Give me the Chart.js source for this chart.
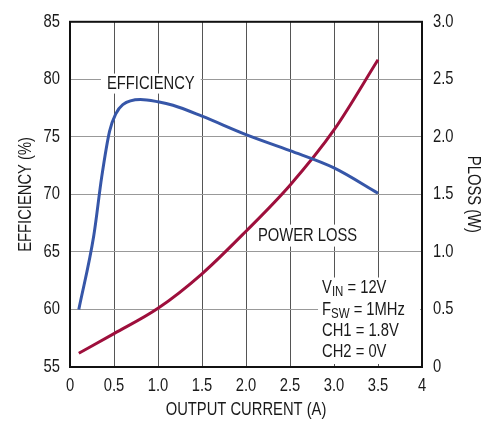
<!DOCTYPE html>
<html>
<head>
<meta charset="utf-8">
<script src="https://cdn.jsdelivr.net/npm/chart.js@4.4.1/dist/chart.umd.min.js"></script>
<style>
html,body{margin:0;padding:0;background:#fff;}
canvas{display:block;}
</style>
</head>
<body>
<canvas id="c" width="484" height="421"></canvas>
<script>
// ---- data ----
const effCurrent = [0.1, 0.27, 0.36, 0.45, 0.52, 0.6, 0.8, 1.0, 1.17, 1.5, 2.0, 2.5, 3.0, 3.5];
const efficiency = [60.0, 66.4, 71.5, 75.5, 77.0, 77.8, 78.25, 78.05, 77.75, 76.8, 75.2, 73.8, 72.3, 70.1];
const lossCurrent = [0.1, 0.5, 1.0, 1.5, 2.0, 2.5, 3.0, 3.5];
const powerLoss = [0.12, 0.29, 0.51, 0.81, 1.18, 1.58, 2.06, 2.67];
const xTicks = [0, 0.5, 1.0, 1.5, 2.0, 2.5, 3.0, 3.5, 4];
const leftTicks = [55, 60, 65, 70, 75, 80, 85];
const rightTicks = [0, 0.5, 1.0, 1.5, 2.0, 2.5, 3.0];
const conditions = [["V", "IN", " = 12V"], ["F", "SW", " = 1MHz"], ["CH1 = 1.8V", "", ""], ["CH2 = 0V", "", ""]];

const FONT = "'Liberation Sans Narrow', 'Liberation Sans', Arial, sans-serif";
const BLUE = '#3656a8';
const RED = '#9e0f3c';
const NARROW = 0.82; // condensed look of the original typeface

const canvas = document.getElementById('c');
const context = canvas.getContext('2d');
// draw all text horizontally condensed (narrow typeface look)
const origFill = context.fillText.bind(context);
const origMeasure = context.measureText.bind(context);
context.fillText = function (t, x, y, mw) {
  this.save();
  this.translate(x, y);
  this.scale(NARROW, 1);
  if (mw !== undefined) origFill(t, 0, 0, mw / NARROW); else origFill(t, 0, 0);
  this.restore();
};
context.measureText = function (t) {
  const m = origMeasure(t);
  return {width: m.width * NARROW, actualBoundingBoxAscent: m.actualBoundingBoxAscent,
          actualBoundingBoxDescent: m.actualBoundingBoxDescent,
          actualBoundingBoxLeft: m.actualBoundingBoxLeft * NARROW,
          actualBoundingBoxRight: m.actualBoundingBoxRight * NARROW};
};

const toXY = (xs, ys) => xs.map((x, i) => ({x, y: ys[i]}));

const notes = {
  id: 'notes',
  beforeDatasetsDraw(chart) {
    const ctx = chart.ctx, x = chart.scales.x, yL = chart.scales.yL, yR = chart.scales.yR;
    ctx.save();
    ctx.fillStyle = '#fff';
    ctx.font = '18px ' + FONT;
    let px = x.getPixelForValue(0.42), py = yL.getPixelForValue(79.63);
    let w = ctx.measureText('EFFICIENCY').width;
    ctx.fillRect(px - 6, py - 10, w + 12, 20);
    px = x.getPixelForValue(2.136); py = yR.getPixelForValue(1.142);
    w = ctx.measureText('POWER LOSS').width;
    ctx.fillRect(px - 5, py - 11, w + 10, 22);
    px = x.getPixelForValue(2.864); py = yR.getPixelForValue(0.682);
    ctx.fillRect(px - 4, py - 11, chart.chartArea.right - px + 2, chart.chartArea.bottom - py + 8);
    ctx.restore();
  },
  afterDatasetsDraw(chart) {
    const ctx = chart.ctx, x = chart.scales.x, yL = chart.scales.yL, yR = chart.scales.yR;
    const a = chart.chartArea;
    ctx.save();
    ctx.fillStyle = '#1a1a1a';
    ctx.textBaseline = 'middle';
    ctx.textAlign = 'left';
    ctx.font = '18px ' + FONT;
    ctx.fillText('EFFICIENCY', x.getPixelForValue(0.42), yL.getPixelForValue(79.63));
    ctx.fillText('POWER LOSS', x.getPixelForValue(2.136), yR.getPixelForValue(1.142));
    const left = x.getPixelForValue(2.864);
    let py = yR.getPixelForValue(0.682);
    conditions.forEach(([main, sub, rest]) => {
      let cx = left;
      ctx.font = '18px ' + FONT;
      ctx.fillText(main, cx, py);
      cx += ctx.measureText(main).width;
      if (sub) {
        ctx.font = '14px ' + FONT;
        ctx.fillText(sub, cx, py + 4);
        cx += ctx.measureText(sub).width;
        ctx.font = '18px ' + FONT;
        ctx.fillText(rest, cx, py);
      }
      py += 21.3;
    });
    ctx.strokeStyle = '#111';
    ctx.lineWidth = 2;
    ctx.strokeRect(a.left, a.top, a.right - a.left, a.bottom - a.top);
    ctx.restore();
  }
};

new Chart(canvas, {
  type: 'line',
  data: {
    datasets: [
      {data: toXY(effCurrent, efficiency), yAxisID: 'yL', borderColor: BLUE, borderWidth: 3,
       pointRadius: 0, cubicInterpolationMode: 'monotone', fill: false},
      {data: toXY(lossCurrent, powerLoss), yAxisID: 'yR', borderColor: RED, borderWidth: 3,
       pointRadius: 0, cubicInterpolationMode: 'monotone', fill: false}
    ]
  },
  options: {
    responsive: false,
    animation: false,
    devicePixelRatio: 1,
    layout: {padding: {top: 15, left: 0, right: 0, bottom: 0}},
    plugins: {legend: {display: false}, tooltip: {enabled: false}},
    scales: {
      x: {
        type: 'linear', min: 0, max: 4,
        afterBuildTicks: s => { s.ticks = xTicks.map(v => ({value: v})); },
        afterFit: s => { s.height = 54; },
        ticks: {color: '#1a1a1a', font: {family: FONT, size: 18}, padding: 8, maxRotation: 0,
                callback: v => (v === 0 || v === 4) ? String(v) : v.toFixed(1)},
        grid: {color: '#555', lineWidth: 1, drawTicks: false},
        border: {display: false},
        title: {display: true, text: 'OUTPUT CURRENT (A)', color: '#1a1a1a',
                font: {family: FONT, size: 18}, padding: {top: 0, bottom: 0}}
      },
      yL: {
        position: 'left', min: 55, max: 85,
        afterBuildTicks: s => { s.ticks = leftTicks.map(v => ({value: v})); },
        afterFit: s => { s.width = 70; },
        ticks: {color: '#1a1a1a', font: {family: FONT, size: 18}, padding: 10},
        grid: {color: '#999', lineWidth: 1, drawTicks: false},
        border: {display: false},
        title: {display: true, text: 'EFFICIENCY (%)', color: '#1a1a1a',
                font: {family: FONT, size: 18}, padding: {top: 15, bottom: 0}}
      },
      yR: {
        position: 'right', min: 0, max: 3,
        afterBuildTicks: s => { s.ticks = rightTicks.map(v => ({value: v})); },
        afterFit: s => { s.width = 62; },
        ticks: {color: '#1a1a1a', font: {family: FONT, size: 18}, padding: 11,
                callback: v => v === 0 ? '0' : v.toFixed(1)},
        grid: {display: false, drawTicks: false},
        border: {display: false},
        title: {display: true, text: 'PLOSS (W)', color: '#1a1a1a',
                font: {family: FONT, size: 18}, padding: {top: 0, bottom: 0}}
      }
    }
  },
  plugins: [notes]
});
</script>
</body>
</html>
